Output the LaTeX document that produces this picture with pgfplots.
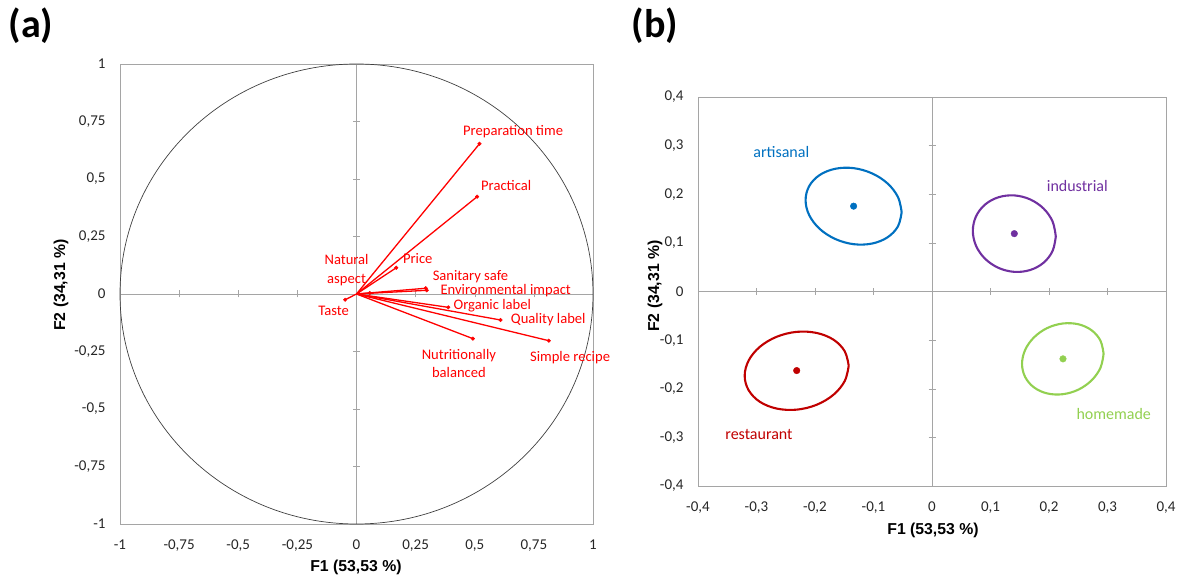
\documentclass[border=0pt]{standalone}
\usepackage{fontspec}
\setmainfont{Carlito}
\newfontfamily\arialfont{Liberation Sans}
\usepackage{pgfplots}
\pgfplotsset{compat=1.18}
\definecolor{abl}{RGB}{0,112,192}
\definecolor{ipu}{RGB}{112,48,160}
\definecolor{rre}{RGB}{192,0,0}
\definecolor{hgr}{RGB}{146,208,80}
\definecolor{axgray}{RGB}{165,165,165}
\pgfplotsset{
  base/.style={scale only axis, anchor=south west, enlargelimits=false,
    axis line style={axgray}, major tick length=0pt,
    ticklabel style={font=\fontsize{15}{17}\selectfont, text=black!85},
    xticklabel style={yshift=-12pt}, yticklabel style={xshift=-11pt},
    /pgf/number format/assume math mode=true},
  cross/.style={scale only axis, anchor=south west, enlargelimits=false, clip=false,
    axis lines=middle, axis line style={axgray,-}, tick style={axgray, thin},
    major tick length=7pt, tick align=center, xticklabels={}, yticklabels={}},
}
\begin{document}
\begin{tikzpicture}[x=1pt,y=1pt]
\useasboundingbox (0,0) rectangle (1185,580);
% ---------------- panel (a)
\begin{axis}[base, at={(120pt,56pt)}, width=473pt, height=460pt,
  xmin=-1,xmax=1,ymin=-1,ymax=1,
  xtick={-1,-0.75,-0.5,-0.25,0,0.25,0.5,0.75,1},
  xticklabels={-1,{-0,75},{-0,5},{-0,25},0,{0,25},{0,5},{0,75},1},
  ytick={-1,-0.75,-0.5,-0.25,0,0.25,0.5,0.75,1},
  yticklabels={-1,{-0,75},{-0,5},{-0,25},0,{0,25},{0,5},{0,75},1}]
\end{axis}
\begin{axis}[cross, at={(120pt,56pt)}, width=473pt, height=460pt,
  xmin=-1,xmax=1,ymin=-1,ymax=1,
  xtick={-0.75,-0.5,-0.25,0.25,0.5,0.75},
  ytick={-0.75,-0.5,-0.25,0.25,0.5,0.75}]
\draw[black!75, line width=0.7pt] (axis cs:0,0) ellipse [x radius=1, y radius=1];
\pgfplotsset{vec/.style={red, line width=1.3pt, no marks}}
\addplot[vec] coordinates {(0,0) (0.520,0.653)};
\addplot[vec] coordinates {(0,0) (0.510,0.423)};
\addplot[vec] coordinates {(0,0) (0.168,0.114)};
\addplot[vec] coordinates {(0,0) (0.293,0.025)};
\addplot[vec] coordinates {(0,0) (0.297,0.016)};
\addplot[vec] coordinates {(0,0) (0.056,0.004)};
\addplot[vec] coordinates {(0,0) (-0.048,-0.025)};
\addplot[vec] coordinates {(0,0) (0.388,-0.058)};
\addplot[vec] coordinates {(0,0) (0.609,-0.113)};
\addplot[vec] coordinates {(0,0) (0.492,-0.194)};
\addplot[vec] coordinates {(0,0) (0.813,-0.203)};
\addplot[only marks, mark=*, mark size=1.8pt, red] coordinates {
 (0.520,0.653) (0.510,0.423) (0.168,0.114) (0.293,0.025) (0.297,0.016)
 (0.056,0.004) (-0.048,-0.025) (0.388,-0.058) (0.609,-0.113) (0.492,-0.194) (0.813,-0.203)};
\begin{scope}[every node/.style={text=red, font=\fontsize{14.6}{16}\selectfont, inner sep=0pt, align=center}]
\node at (axis cs:0.662,0.706) {Preparation time};
\node at (axis cs:0.633,0.473) {Practical};
\node at (axis cs:0.259,0.155) {Price};
\node[font=\fontsize{14.6}{18.5}\selectfont] at (axis cs:-0.042,0.104) {Natural\\aspect};
\node at (axis cs:0.482,0.075) {Sanitary safe};
\node at (axis cs:0.631,0.013) {Environmental impact};
\node at (axis cs:0.574,-0.052) {Organic label};
\node at (axis cs:0.811,-0.110) {Quality label};
\node at (axis cs:0.903,-0.278) {Simple recipe};
\node[font=\fontsize{14.6}{18}\selectfont] at (axis cs:0.433,-0.301) {Nutritionally\\balanced};
\node at (axis cs:-0.097,-0.075) {Taste};
\end{scope}
\end{axis}
% ---------------- panel (b)
\begin{axis}[base, at={(698pt,94pt)}, width=468pt, height=389pt,
  xmin=-0.4,xmax=0.4,ymin=-0.4,ymax=0.4,
  xtick={-0.4,-0.3,-0.2,-0.1,0,0.1,0.2,0.3,0.4},
  xticklabels={{-0,4},{-0,3},{-0,2},{-0,1},0,{0,1},{0,2},{0,3},{0,4}},
  ytick={-0.4,-0.3,-0.2,-0.1,0,0.1,0.2,0.3,0.4},
  yticklabels={{-0,4},{-0,3},{-0,2},{-0,1},0,{0,1},{0,2},{0,3},{0,4}}]
\end{axis}
\begin{axis}[cross, at={(698pt,94pt)}, width=468pt, height=389pt,
  xmin=-0.4,xmax=0.4,ymin=-0.4,ymax=0.4,
  xtick={-0.3,-0.2,-0.1,0.1,0.2,0.3},
  ytick={-0.3,-0.2,-0.1,0.1,0.2,0.3}]
\pgfplotsset{ell/.style={line width=2.1pt, smooth, tension=0.6, no marks}}
% artisanal
\addplot[ell, abl] coordinates {
 (-0.0519,0.1632) (-0.0581,0.1342) (-0.0759,0.1115) (-0.1026,0.0986)
 (-0.1340,0.0973) (-0.1654,0.1080) (-0.1921,0.1289) (-0.2099,0.1570)
 (-0.2161,0.1878) (-0.2099,0.2168) (-0.1921,0.2395) (-0.1654,0.2524)
 (-0.1340,0.2537) (-0.1026,0.2430) (-0.0759,0.2221) (-0.0581,0.1940)
 (-0.0519,0.1632)};
% industrial
\addplot[ell, ipu] coordinates {
 (0.2116,0.1132) (0.2062,0.0836) (0.1908,0.0593) (0.1678,0.0442)
 (0.1407,0.0404) (0.1136,0.0486) (0.0906,0.0675) (0.0752,0.0942)
 (0.0698,0.1248) (0.0752,0.1544) (0.0906,0.1787) (0.1136,0.1938)
 (0.1407,0.1976) (0.1678,0.1894) (0.1908,0.1705) (0.2062,0.1438)
 (0.2116,0.1132)};
% restaurant
\addplot[ell, rre] coordinates {
 (-0.1424,-0.1527) (-0.1492,-0.1841) (-0.1684,-0.2123) (-0.1973,-0.2330)
 (-0.2313,-0.2430) (-0.2653,-0.2408) (-0.2942,-0.2269) (-0.3134,-0.2031)
 (-0.3202,-0.1733) (-0.3134,-0.1419) (-0.2942,-0.1137) (-0.2653,-0.0930)
 (-0.2313,-0.0830) (-0.1973,-0.0852) (-0.1684,-0.0991) (-0.1492,-0.1229)
 (-0.1424,-0.1527)};
% homemade
\addplot[ell, hgr] coordinates {
 (0.2933,-0.1282) (0.2880,-0.1568) (0.2729,-0.1826) (0.2503,-0.2018)
 (0.2236,-0.2112) (0.1969,-0.2096) (0.1743,-0.1972) (0.1592,-0.1758)
 (0.1539,-0.1488) (0.1592,-0.1202) (0.1743,-0.0944) (0.1969,-0.0752)
 (0.2236,-0.0658) (0.2503,-0.0674) (0.2729,-0.0798) (0.2880,-0.1012)
 (0.2933,-0.1282)};
\addplot[only marks, mark=*, mark size=3.3pt, abl] coordinates {(-0.134,0.1755)};
\addplot[only marks, mark=*, mark size=3.3pt, ipu] coordinates {(0.1407,0.119)};
\addplot[only marks, mark=*, mark size=3.3pt, rre] coordinates {(-0.2313,-0.1626)};
\addplot[only marks, mark=*, mark size=3.3pt, hgr] coordinates {(0.2239,-0.1385)};
\begin{scope}[every node/.style={font=\fontsize{16}{18}\selectfont, inner sep=0pt}]
\node[text=abl] at (axis cs:-0.2576,0.2866) {artisanal};
\node[text=ipu] at (axis cs:0.2484,0.2167) {industrial};
\node[text=rre] at (axis cs:-0.2958,-0.2949) {restaurant};
\node[text=hgr] at (axis cs:0.3106,-0.2517) {homemade};
\end{scope}
\end{axis}
% ---------------- titles
\begin{scope}[every node/.style={font=\arialfont\bfseries\fontsize{15.8}{18}\selectfont, inner sep=0pt}]
\node at (356,13) {F1 (53,53 \%)};
\node[rotate=90] at (61,295) {F2 (34,31 \%)};
\node at (933,50) {F1 (53,53 \%)};
\node[rotate=90] at (655,294) {F2 (34,31 \%)};
\end{scope}
\node[font=\bfseries\fontsize{40}{42}\selectfont, inner sep=0pt] at (31,554) {(a)};
\node[font=\bfseries\fontsize{40}{42}\selectfont, inner sep=0pt] at (655,554) {(b)};
\end{tikzpicture}
\end{document}
